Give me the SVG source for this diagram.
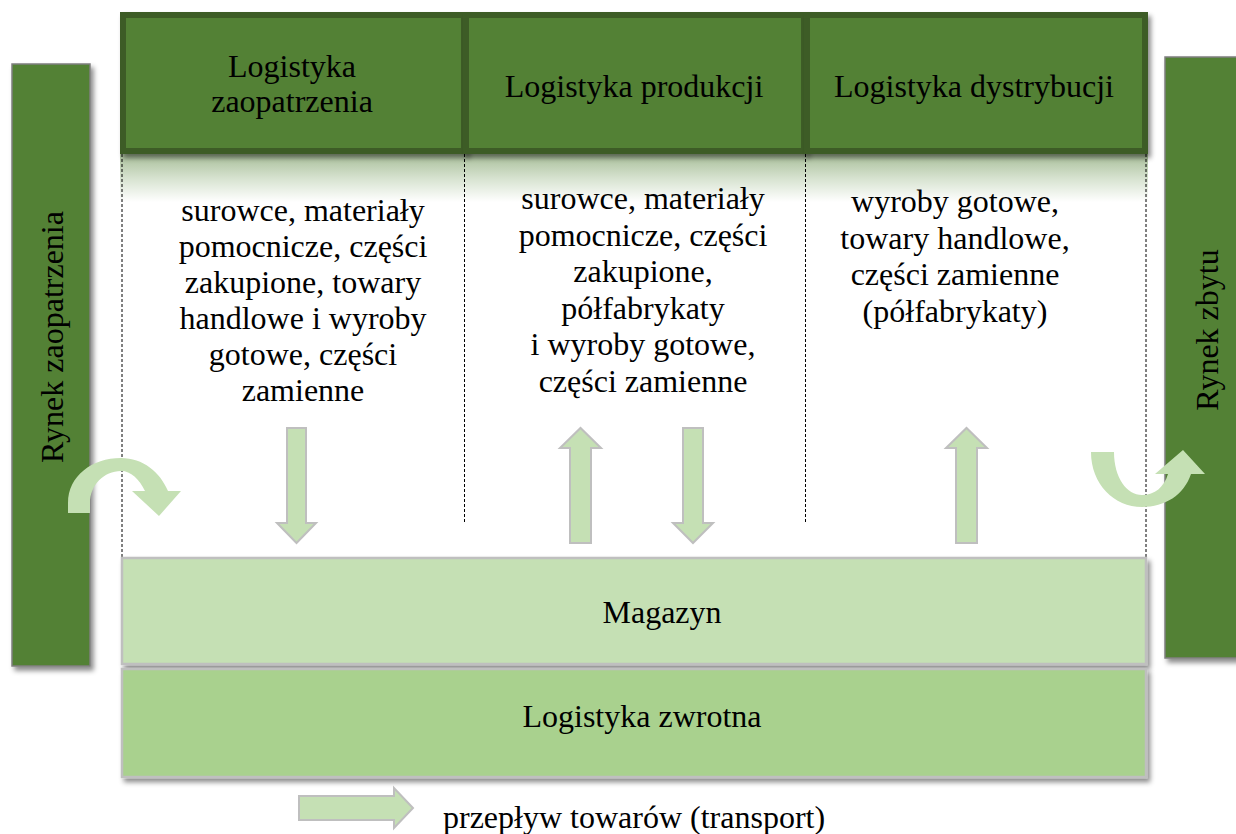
<svg xmlns="http://www.w3.org/2000/svg" width="1236" height="834" viewBox="0 0 1236 834">
  <defs>
    <style>
      .t { font-family: "Liberation Serif", "Times New Roman", serif; font-size: 32px; fill: #000; text-anchor: middle; }
      .head { fill: #538135; stroke: #3d5c26; stroke-width: 6; }
      .side { fill: #538135; stroke: #7f7f7f; stroke-width: 1.5; }
      .band { stroke: #bfbfbf; stroke-width: 2.5; }
      .flow { fill: #c5e0b4; stroke: #bfbfbf; stroke-width: 2; stroke-linejoin: miter; }
      .turn { fill: #c5e0b4; }
      .guide { stroke: #000; stroke-width: 1; stroke-dasharray: 3 2; fill: none; }
    </style>
    <filter id="shadow" x="-10%" y="-10%" width="130%" height="130%">
      <feDropShadow dx="3" dy="4" stdDeviation="2.5" flood-color="#000" flood-opacity="0.45"/>
    </filter>
    <linearGradient id="fade" x1="0" y1="0" x2="0" y2="1">
      <stop offset="0" stop-color="#a7bd98"/>
      <stop offset="0.5" stop-color="#d6e2cf"/>
      <stop offset="1" stop-color="#ffffff"/>
    </linearGradient>
  </defs>

  <rect width="1236" height="834" fill="#ffffff"/>

  <!-- soft fade under the header row -->
  <rect x="120" y="154" width="1028" height="48" fill="url(#fade)"/>

  <!-- market bars -->
  <g id="rynek-zaopatrzenia">
    <rect class="side" x="12" y="64" width="78" height="602" filter="url(#shadow)"/>
    <text class="t" transform="translate(63,337) rotate(-90)">Rynek zaopatrzenia</text>
  </g>
  <g id="rynek-zbytu">
    <rect class="side" x="1165" y="57" width="76" height="601" filter="url(#shadow)"/>
    <text class="t" transform="translate(1218,330) rotate(-90)">Rynek zbytu</text>
  </g>

  <!-- header cells -->
  <g id="logistyka-zaopatrzenia">
    <rect class="head" x="123" y="15" width="341" height="136" filter="url(#shadow)"/>
    <text class="t" x="292" y="77">Logistyka</text>
    <text class="t" x="292" y="112">zaopatrzenia</text>
  </g>
  <g id="logistyka-produkcji">
    <rect class="head" x="466" y="15" width="338" height="136" filter="url(#shadow)"/>
    <text class="t" x="634" y="97">Logistyka produkcji</text>
  </g>
  <g id="logistyka-dystrybucji">
    <rect class="head" x="807" y="15" width="338" height="136" filter="url(#shadow)"/>
    <text class="t" x="974" y="97">Logistyka dystrybucji</text>
  </g>

  <!-- column separators -->
  <g id="guides">
    <line class="guide" x1="122" y1="154" x2="122" y2="558"/>
    <line class="guide" x1="464.5" y1="154" x2="464.5" y2="523"/>
    <line class="guide" x1="805.5" y1="154" x2="805.5" y2="523"/>
    <line class="guide" x1="1146" y1="154" x2="1146" y2="558"/>
  </g>

  <!-- goods per column -->
  <g id="towary-zaopatrzenie">
    <text class="t" x="303" y="221">surowce, materiały</text>
    <text class="t" x="303" y="257">pomocnicze, części</text>
    <text class="t" x="303" y="293">zakupione, towary</text>
    <text class="t" x="303" y="329">handlowe i wyroby</text>
    <text class="t" x="303" y="365">gotowe, części</text>
    <text class="t" x="303" y="401">zamienne</text>
  </g>
  <g id="towary-produkcja">
    <text class="t" x="643" y="209">surowce, materiały</text>
    <text class="t" x="643" y="246">pomocnicze, części</text>
    <text class="t" x="643" y="282">zakupione,</text>
    <text class="t" x="643" y="319">półfabrykaty</text>
    <text class="t" x="643" y="355">i wyroby gotowe,</text>
    <text class="t" x="643" y="392">części zamienne</text>
  </g>
  <g id="towary-dystrybucja">
    <text class="t" x="955" y="212">wyroby gotowe,</text>
    <text class="t" x="955" y="249">towary handlowe,</text>
    <text class="t" x="955" y="285">części zamienne</text>
    <text class="t" x="955" y="322">(półfabrykaty)</text>
  </g>

  <!-- warehouse and reverse logistics -->
  <g id="magazyn">
    <rect class="band" x="122" y="558" width="1024" height="106" fill="#c5e0b4" filter="url(#shadow)"/>
    <text class="t" x="662" y="623">Magazyn</text>
  </g>
  <g id="logistyka-zwrotna">
    <rect class="band" x="122" y="669" width="1024" height="108" fill="#a9d18e" filter="url(#shadow)"/>
    <text class="t" x="642" y="727">Logistyka zwrotna</text>
  </g>

  <!-- flows of goods -->
  <g id="connectors">
    <!-- into the warehouse, supply -->
    <path class="flow" d="M287,428 H306 V523 H316 L296.5,543 L277,523 H287 Z"/>
    <!-- production: out of and into the warehouse -->
    <path class="flow" d="M570,543 H591 V448 H601 L580.5,428 L560,448 H570 Z"/>
    <path class="flow" d="M683,428 H703 V523 H713 L693,543 L673,523 H683 Z"/>
    <!-- distribution: out of the warehouse -->
    <path class="flow" d="M956,543 H977 V448 H987 L966.5,428 L946,448 H956 Z"/>
    <!-- from supply market -->
    <path class="turn" d="M68,513 L68,503 C68,476 92,458 121,458 C143,458 160,472 168,491 L181,491 L159,516 L132,491 L145,491 C139,479 131,471 121,471 C104,471 90,485 90,503 L90,513 Z"/>
    <!-- to sales market -->
    <path class="turn" d="M1091,452 L1114,452 C1114,478 1127,495 1142,495 C1155,495 1164,487 1168,474 L1155,474 L1183,450 L1205,474 L1191,474 C1184,495 1165,507 1142,507 C1114,507 1091,484 1091,452 Z"/>
  </g>

  <!-- legend -->
  <g id="legenda">
    <path class="flow" d="M299,796 H394 V788 L413,808 L394,828 V820 H299 Z"/>
    <text class="t" x="443" y="828" style="text-anchor:start">przepływ towarów (transport)</text>
  </g>
</svg>
